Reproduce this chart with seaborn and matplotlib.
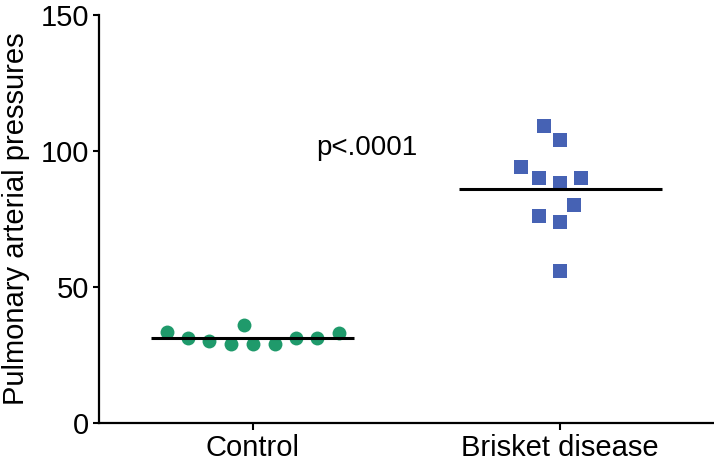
import numpy as np
import pandas as pd
import seaborn as sns
import matplotlib.pyplot as plt

# values
groups = ["Control", "Brisket disease"]
control_vals = [33.3, 31.1, 31.1, 28.9, 28.9, 28.9, 30.2, 31.1, 32.9, 35.9]
brisket_vals = [109.2, 104.0, 90.1, 88.1, 90.1, 94.2, 80.1, 76.0, 74.0, 55.9]
y_ticks = [0, 50, 100, 150]
p_text = "p<.0001"

df = pd.DataFrame({
    "group": ["Control"] * len(control_vals) + ["Brisket disease"] * len(brisket_vals),
    "pressure": control_vals + brisket_vals,
})

sns.set_theme(style="ticks")
plt.rcParams["font.family"] = ["Liberation Sans", "DejaVu Sans"]
plt.rcParams["text.color"] = "black"
plt.rcParams["axes.labelcolor"] = "black"
plt.rcParams["xtick.labelcolor"] = "black"
plt.rcParams["ytick.labelcolor"] = "black"

fig = plt.figure(figsize=(7.14, 4.71), dpi=100)
ax = fig.add_axes([0.1387, 0.1025, 0.8613, 0.8656])

styles = {
    "Control": dict(marker="o", color="#1f9a6b"),
    "Brisket disease": dict(marker="s", color="#4662b4"),
}
shown_size = {"Control": 10, "Brisket disease": 10.5}
colls = {}
for g in groups:
    n0 = len(ax.collections)
    # swarm laid out with a looser spacing, like the prism-style scatter
    sns.swarmplot(data=df[df["group"] == g], x="group", y="pressure", order=groups,
                  ax=ax, linewidth=0, size=15, warn_thresh=1, **styles[g])
    colls[g] = ax.collections[n0:]

ax.set_xlim(-0.5, 1.5)
ax.set_ylim(0, 150)
fig.canvas.draw()
# freeze the swarm positions, then shrink markers to their real size
for g in groups:
    for c in colls[g]:
        if "draw" in c.__dict__:
            del c.draw
        c.set_sizes([shown_size[g] ** 2])

# mean lines
means = df.groupby("group")["pressure"].mean()
for i, g in enumerate(groups):
    ax.hlines(means[g], i - 0.33, i + 0.33, color="black", lw=2.2, zorder=3)

ax.text(0.37, 101, p_text, fontsize=20, ha="center", va="center")

ax.set_yticks(y_ticks)
ax.set_xlabel("")
ax.set_ylabel("Pulmonary arterial pressures", fontsize=21, labelpad=8)
ax.tick_params(axis="both", labelsize=21, width=1.5, color="black", pad=3)
ax.tick_params(axis="y", length=4)
ax.tick_params(axis="x", length=5)
sns.despine(ax=ax)
for s in ["left", "bottom"]:
    ax.spines[s].set_linewidth(1.6)
    ax.spines[s].set_color("black")
    ax.spines[s].set_clip_on(False)

fig.savefig("out.png", dpi=100)
